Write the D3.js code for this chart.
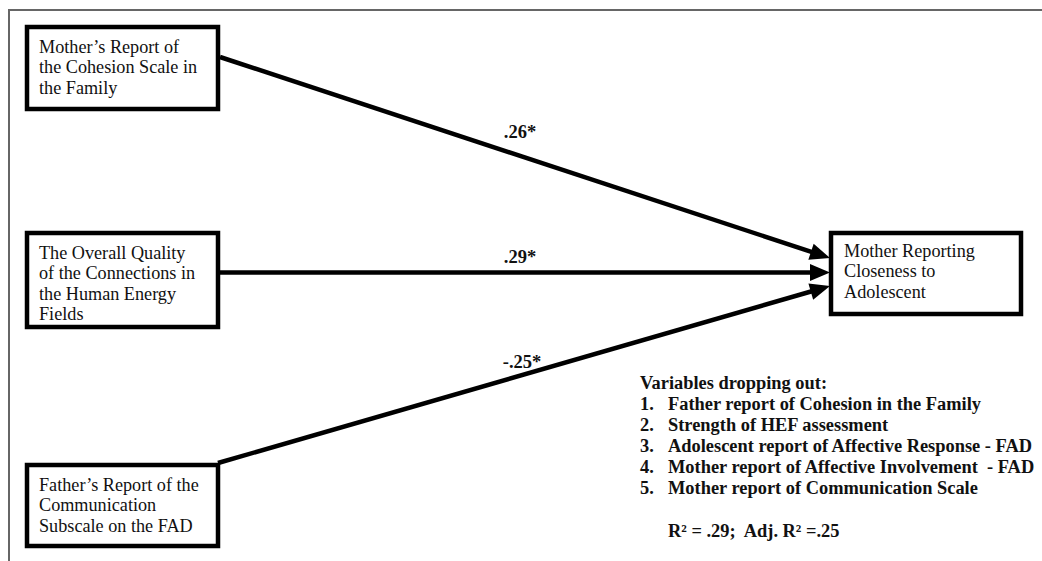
<!DOCTYPE html>
<html>
<head>
<meta charset="utf-8">
<script src="https://cdn.jsdelivr.net/npm/d3@7"></script>
<style>
  html, body { margin: 0; padding: 0; background: #fff; }
  svg { display: block; font-family: "Liberation Serif", "Times New Roman", serif; }
</style>
</head>
<body>
<div id="chart"></div>
<script>
// predictor boxes (text lines) and their path coefficients
const predictors = [
  ["Mother\u2019s Report of", "the Cohesion Scale in", "the Family"],
  ["The Overall Quality", "of the Connections in", "the Human Energy", "Fields"],
  ["Father\u2019s Report of the", "Communication", "Subscale on the FAD"]
];
const coefficients = [0.26, 0.29, -0.25];
const significant = [true, true, true];

const outcome = ["Mother Reporting", "Closeness to", "Adolescent"];

const droppedTitle = "Variables dropping out:";
const droppedVars = [
  "Father report of Cohesion in the Family",
  "Strength of HEF assessment",
  "Adolescent report of Affective Response - FAD",
  "Mother report of Affective Involvement  - FAD",
  "Mother report of Communication Scale"
];
const rSquared = 0.29;
const adjRSquared = 0.25;

(function() {
  const width = 1042;
  const height = 561;

  // layout
  const box = { x: 27, w: 191 };
  const boxTops = [27, 233, 465];
  const boxHeights = [82, 94, 81];
  const target = { x: 831, y: 233, w: 190, h: 81 };
  const lineH = 20.3;
  const startY = [57, 272.5, 463];
  const endY = [258, 272.5, 286];
  const labelX = 520;
  const labelLift = [18, 10, 8];

  // ".26" style, plain hyphen for negatives
  const fmt = v => (v < 0 ? "-" : "") + Math.abs(v).toFixed(2).replace(/^0/, "");

  const svg = d3.select("#chart")
    .append("svg")
    .attr("width", width)
    .attr("height", height);

  // frame
  svg.append("path")
    .attr("d", `M9,${height} V10 H${width}`)
    .attr("fill", "none")
    .attr("stroke", "#666")
    .attr("stroke-width", 2);

  // predictor boxes
  const boxes = svg.selectAll("g.pred")
    .data(predictors)
    .join("g")
    .attr("class", "pred")
    .attr("transform", (d, i) => `translate(${box.x},${boxTops[i]})`);

  boxes.append("rect")
    .attr("width", box.w)
    .attr("height", (d, i) => boxHeights[i])
    .attr("fill", "#fff")
    .attr("stroke", "#000")
    .attr("stroke-width", 4.5);

  boxes.each(function(lines) {
    d3.select(this).selectAll("text")
      .data(lines)
      .join("text")
      .attr("x", 12)
      .attr("y", (d, j) => 26 + j * lineH)
      .attr("font-size", "18.2px")
      .attr("fill", "#111")
      .text(d => d);
  });

  // outcome box
  const tg = svg.append("g").attr("transform", `translate(${target.x},${target.y})`);
  tg.append("rect")
    .attr("width", target.w)
    .attr("height", target.h)
    .attr("fill", "#fff")
    .attr("stroke", "#000")
    .attr("stroke-width", 4.5);
  tg.selectAll("text")
    .data(outcome)
    .join("text")
    .attr("x", 13)
    .attr("y", (d, j) => 24 + j * lineH)
    .attr("font-size", "18.2px")
    .attr("fill", "#111")
    .text(d => d);

  // paths with arrowheads
  const x0 = box.x + box.w + 2;
  const tipX = target.x - 1;
  const headLen = 20, headHalf = 8.5;

  coefficients.forEach((c, i) => {
    const y0 = startY[i];
    const sx = i === 2 ? x0 - 2 : x0;
    const dx = tipX - sx, dy = endY[i] - y0;
    const len = Math.hypot(dx, dy);
    const ux = dx / len, uy = dy / len;
    const bx = tipX - ux * headLen, by = endY[i] - uy * headLen;

    svg.append("line")
      .attr("x1", sx).attr("y1", y0)
      .attr("x2", bx + ux * 2).attr("y2", by + uy * 2)
      .attr("stroke", "#000")
      .attr("stroke-width", 4.5);

    svg.append("path")
      .attr("d", `M${tipX},${endY[i]} L${bx - uy * headHalf},${by + ux * headHalf} L${bx + uy * headHalf},${by - ux * headHalf} Z`)
      .attr("fill", "#000");

    const ly = y0 + (labelX - sx) / dx * dy - labelLift[i];
    svg.append("text")
      .attr("x", labelX + (c < 0 ? 2 : 0))
      .attr("y", ly)
      .attr("text-anchor", "middle")
      .attr("font-size", "18.5px")
      .attr("font-weight", "bold")
      .attr("fill", "#111")
      .text(fmt(c) + (significant[i] ? "*" : ""));
  });

  // dropped variables note
  const note = svg.append("g")
    .attr("transform", "translate(640,389)")
    .attr("font-size", "18.4px")
    .attr("font-weight", "bold")
    .attr("fill", "#111");

  note.append("text").text(droppedTitle);

  const rows = note.selectAll("g.row")
    .data(droppedVars)
    .join("g")
    .attr("class", "row")
    .attr("transform", (d, i) => `translate(0,${(i + 1) * 21})`);
  rows.append("text").text((d, i) => `${i + 1}.`);
  rows.append("text").attr("x", 28).style("white-space", "pre").text(d => d);

  note.append("text")
    .attr("x", 28)
    .attr("y", 21 * 7.05)
    .style("white-space", "pre")
    .text(`R\u00b2 = ${fmt(rSquared)};  Adj. R\u00b2 =${fmt(adjRSquared)}`);
})();
</script>
</body>
</html>
